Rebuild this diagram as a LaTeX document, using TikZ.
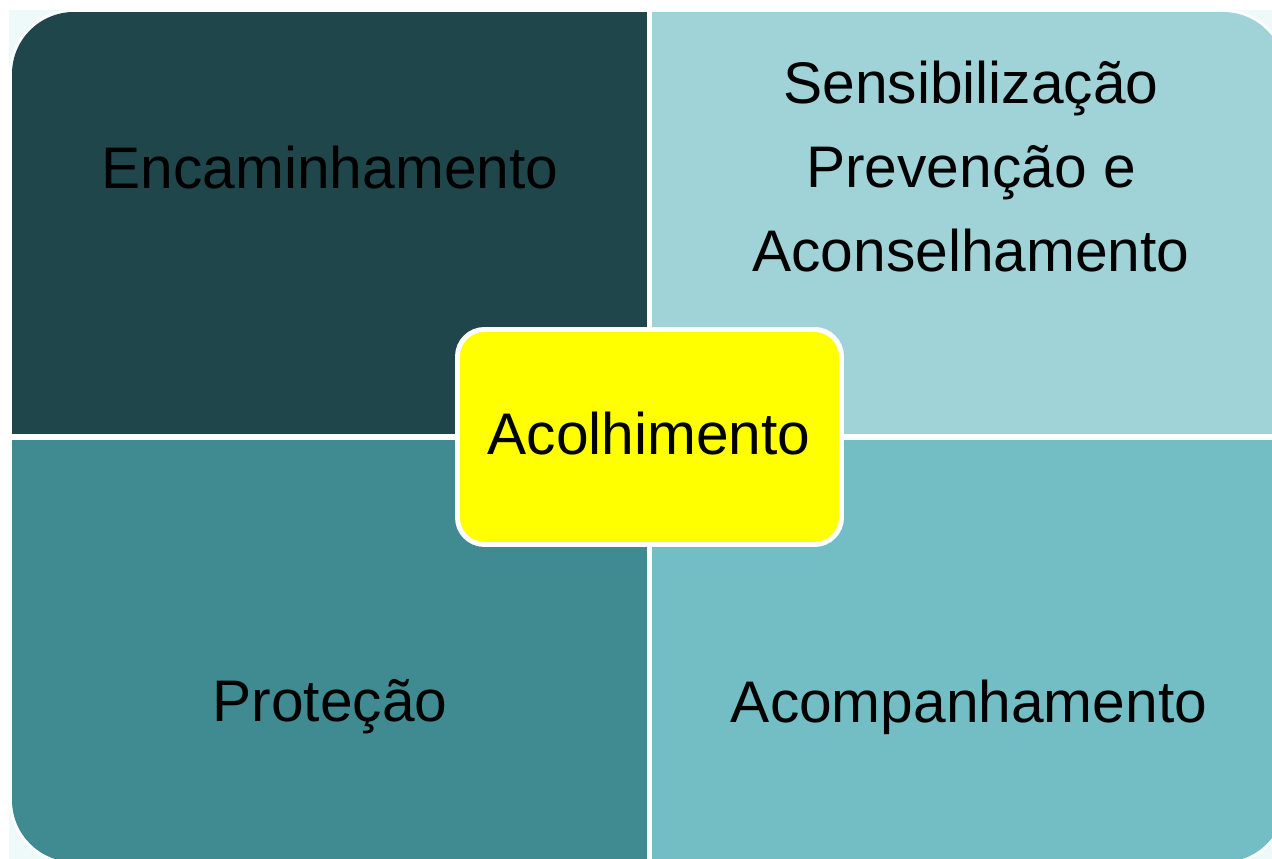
\documentclass[tikz,border=0pt]{standalone}
\usepackage{fontspec}
\setmainfont{Liberation Sans}
\usepackage{tikz}
\definecolor{darkteal}{HTML}{1F474B}
\definecolor{paleteal}{HTML}{9FD3D8}
\definecolor{midteal}{HTML}{3F8B91}
\definecolor{lightteal}{HTML}{72BEC4}
\definecolor{backcyan}{HTML}{EEF9F9}
\definecolor{centreyellow}{HTML}{FFFF00}

\begin{document}
\begin{tikzpicture}[x=0.02cm, y=0.02cm,
		label/.style={inner sep=0pt, font=\fontsize{33.4}{47.9}\selectfont, text=black},
		outer/.style={rounded corners=1.24cm}]
		%%%%% START %%%%%
		\useasboundingbox (0, 0) rectangle (1272, 859);
		\fill[white] (0, 0) rectangle (1272, 859);
		\fill[backcyan] (9, -5) rectangle (1290, 849);
		
		\draw[outer, white, fill=white, line width=3.4pt] (12, -3) rectangle (1285, 847);
		
		\begin{scope}
			\clip[outer] (12, -3) rectangle (1285, 847);
			\fill[darkteal] (12, 425) rectangle (647, 847);
			\fill[paleteal] (652, 425) rectangle (1285, 847);
			\fill[midteal] (12, -3) rectangle (647, 419);
			\fill[lightteal] (652, -3) rectangle (1285, 419);
		\end{scope}
		
		\node[label, anchor=base] (encaminhamento) at (330, 670) {Encaminhamento};
		\node[label, anchor=base, align=center] (sensibilizacao) at (971, 587) {Sensibilização\\Prevenção e\\Aconselhamento};
		\node[label, anchor=base] (protecao) at (330, 137) {Proteção};
		\node[label, anchor=base] (acompanhamento) at (969, 136) {Acompanhamento};
		
		\draw[white, fill=centreyellow, line width=2.83pt, rounded corners=0.54cm] (457.5, 314.5) rectangle (841.5, 529.5);
		\node[label, anchor=base] (acolhimento) at (649, 404) {Acolhimento};
		%%%%% END %%%%%
	\end{tikzpicture}
\end{document}
